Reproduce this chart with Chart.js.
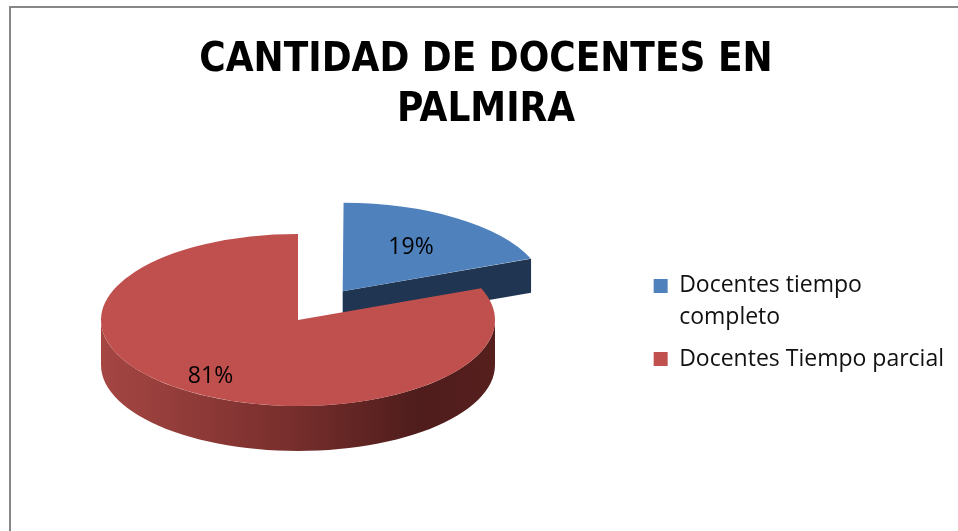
<!DOCTYPE html>
<html>
<head>
<meta charset="utf-8">
<script src="https://cdn.jsdelivr.net/npm/chart.js@4/dist/chart.umd.min.js"></script>
<style>
  html, body { margin: 0; padding: 0; background: #fff; }
  #wrap { position: relative; width: 958px; height: 531px; overflow: hidden; }
  #frame { position: absolute; left: 9px; top: 6px; width: 2000px; height: 2000px;
           border-top: 2px solid #878787; border-left: 2px solid #878787; }
  #pie { position: absolute; left: 0; top: 0; }
</style>
</head>
<body>
<div id="wrap">
  <div id="frame"></div>
  <canvas id="pie" width="958" height="531"></canvas>
</div>
<script>
const categories = [['Docentes tiempo', 'completo'], 'Docentes Tiempo parcial'];
const values = [19, 81];
const topColors = ['#4f81bd', '#c0504d'];
const explode = [318, 0];

// fake 3D: squash the pie and paint the side walls under it
const pie3d = {
    id: 'pie3d',
    beforeDatasetsDraw(chart, args, opts) {
        const ctx = chart.ctx;
        const arcs = chart.getDatasetMeta(0).data;
        const k = opts.tilt;
        const total = values.reduce((a, b) => a + b, 0);
        chart.$pie3d = [];
        ctx.save();
        arcs.forEach((arc, i) => {
            const d = opts.depth[i];
            const o = (arc.options.offset || 0) / 4;
            const circ = arc.endAngle - arc.startAngle;
            const fix = 1 - Math.sin(Math.min(Math.PI, circ));
            const h = (arc.startAngle + arc.endAngle) / 2;
            const cx = opts.cx + Math.cos(h) * o;
            const cy = opts.cy + Math.sin(h) * o * k;
            const R = arc.outerRadius + o * fix;
            if (!isFinite(cx) || !isFinite(R)) return;
            chart.$pie3d.push({cx, cy, R, h, pct: Math.round(values[i] / total * 100)});

            // curved outer wall, only the front half is seen
            const g = ctx.createLinearGradient(cx - R, 0, cx + R, 0);
            opts.sideStops[i].forEach(s => g.addColorStop(s[0], s[1]));
            [-2 * Math.PI, 0, 2 * Math.PI].forEach(shift => {
                const a0 = Math.max(arc.startAngle, shift);
                const a1 = Math.min(arc.endAngle, shift + Math.PI);
                if (a1 <= a0) return;
                ctx.beginPath();
                const n = 60;
                for (let j = 0; j <= n; j++) {
                    const a = a0 + (a1 - a0) * j / n;
                    ctx.lineTo(cx + R * Math.cos(a), cy + k * R * Math.sin(a));
                }
                for (let j = n; j >= 0; j--) {
                    const a = a0 + (a1 - a0) * j / n;
                    ctx.lineTo(cx + R * Math.cos(a), cy + k * R * Math.sin(a) + d);
                }
                ctx.closePath();
                ctx.fillStyle = g;
                ctx.fill();
            });

            // flat cut faces
            const face = (a) => {
                const px = cx + R * Math.cos(a), py = cy + k * R * Math.sin(a);
                ctx.beginPath();
                ctx.moveTo(cx, cy);
                ctx.lineTo(px, py);
                ctx.lineTo(px, py + d);
                ctx.lineTo(cx, cy + d);
                ctx.closePath();
                ctx.fillStyle = opts.faceColors[i];
                ctx.fill();
            };
            if (Math.cos(arc.startAngle) < -1e-6) face(arc.startAngle);
            if (Math.cos(arc.endAngle) > 1e-6) face(arc.endAngle);
        });
        ctx.restore();

        ctx.save();
        ctx.translate(opts.cx, opts.cy);
        ctx.scale(1, k);
        ctx.translate(-arcs[0].x, -arcs[0].y);
    },
    afterDatasetsDraw(chart, args, opts) {
        const ctx = chart.ctx;
        ctx.restore();
        ctx.save();
        ctx.font = opts.labelFont;
        ctx.fillStyle = '#000';
        ctx.textAlign = 'center';
        ctx.textBaseline = 'middle';
        chart.$pie3d.forEach((p, i) => {
            const f = opts.labelAt[i];
            ctx.fillText(p.pct + '%', p.cx + Math.cos(p.h) * p.R * f, p.cy + Math.sin(p.h) * p.R * f * opts.tilt);
        });
        ctx.restore();
    }
};

const pie = document.getElementById('pie');
new Chart(pie, {
    type: 'pie',
    data: {
        labels: categories,
        datasets: [{
            data: values,
            backgroundColor: topColors,
            borderWidth: 0,
            offset: explode,
            radius: 197,
            clip: false
        }]
    },
    options: {
        responsive: false,
        animation: false,
        events: [],
        layout: { padding: { left: 18, right: 4, top: 0, bottom: 32 } },
        plugins: {
            title: {
                display: true,
                text: ['CANTIDAD DE DOCENTES EN', 'PALMIRA'],
                color: '#000',
                font: { family: "'DejaVu Sans Condensed', sans-serif", size: 40, weight: 'bold', lineHeight: 1.25 },
                padding: { top: 36, bottom: 10 }
            },
            legend: {
                position: 'right',
                fullSize: false,
                labels: {
                    boxWidth: 14,
                    boxHeight: 14,
                    color: '#111',
                    padding: 11,
                    font: { family: "'Open Sans', sans-serif", size: 23, lineHeight: 1.35 }
                }
            },
            tooltip: { enabled: false },
            pie3d: {
                cx: 298,
                cy: 320,
                tilt: 0.4365,
                depth: [34, 45],
                labelAt: [0.6, 0.79],
                labelFont: "23px 'Open Sans', sans-serif",
                faceColors: ['#1f3552', '#7a302e'],
                sideStops: [
                    [[0, '#2c4a73'], [1, '#1a2c45']],
                    [[0, '#a54643'], [0.45, '#7b302e'], [0.8, '#4f1d1c'], [1, '#561f1e']]
                ]
            }
        }
    },
    plugins: [pie3d]
});
</script>
</body>
</html>
